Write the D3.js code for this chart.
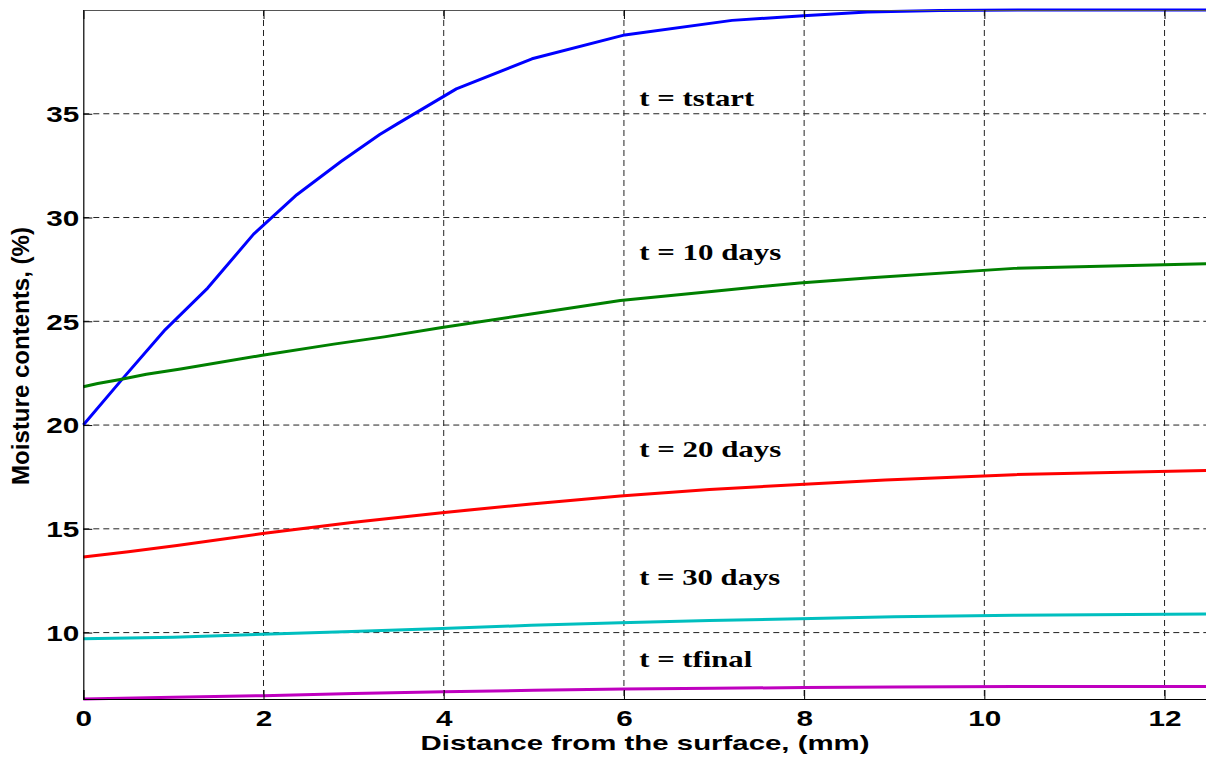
<!DOCTYPE html>
<html>
<head>
<meta charset="utf-8">
<script src="https://cdn.jsdelivr.net/npm/d3@7"></script>
<style>
  html, body { margin: 0; padding: 0; background: #fff; }
  svg { display: block; }
</style>
</head>
<body>
<svg id="chart" width="1206" height="757"></svg>
<script>
// Moisture profiles through the thickness at successive drying times
const xTicks = [0, 2, 4, 6, 8, 10, 12];
const yTicks = [10, 15, 20, 25, 30, 35];

const distStart  = [0, 0.43, 0.91, 1.38, 1.89, 2.37, 2.86, 3.29, 3.48, 4.14, 4.98, 6.01, 7.20, 7.99, 8.7, 9.5, 10.5, 12.5];
const moistStart = [20.0, 22.2, 24.6, 26.6, 29.2, 31.1, 32.7, 34.0, 34.5, 36.2, 37.65, 38.8, 39.5, 39.72, 39.9, 39.97, 40.0, 40.0];

const dist10  = [0, 0.16, 0.41, 0.7, 1.08, 1.97, 2.78, 3.34, 3.98, 4.97, 5.96, 7.0, 7.95, 8.74, 10.33, 12.5];
const moist10 = [21.85, 22.0, 22.2, 22.45, 22.7, 23.35, 23.9, 24.25, 24.7, 25.35, 26.0, 26.45, 26.85, 27.1, 27.55, 27.78];

const dist20  = [0, 0.5, 1.04, 1.99, 2.98, 3.98, 4.97, 5.96, 6.95, 7.95, 8.9, 10.33, 12.5];
const moist20 = [13.64, 13.9, 14.2, 14.77, 15.3, 15.78, 16.2, 16.58, 16.9, 17.13, 17.35, 17.61, 17.82];

const dist30  = [0, 1, 1.99, 2.98, 3.98, 4.97, 5.96, 6.95, 7.95, 9, 10.33, 12.5];
const moist30 = [9.7, 9.78, 9.92, 10.05, 10.2, 10.35, 10.47, 10.58, 10.67, 10.76, 10.83, 10.9];

const distFinal  = [0, 1, 2, 3, 4, 5, 6, 7, 8, 9, 10.33, 12.5];
const moistFinal = [6.8, 6.88, 6.96, 7.07, 7.15, 7.22, 7.28, 7.32, 7.35, 7.38, 7.4, 7.4];

const seriesNames  = ["t = tstart", "t = 10 days", "t = 20 days", "t = 30 days", "t = tfinal"];
const seriesColors = ["#0000ff", "#008000", "#ff0000", "#00bfbf", "#bf00bf"];
const labelX = [6.17, 6.17, 6.17, 6.17, 6.17];
const labelY = [35.37, 27.95, 18.46, 12.29, 8.34];
const labelWidths = [115, 142, 142, 141, 113];

const series = [
  { x: distStart, y: moistStart },
  { x: dist10,    y: moist10 },
  { x: dist20,    y: moist20 },
  { x: dist30,    y: moist30 },
  { x: distFinal, y: moistFinal }
];

const plotLeft = 83.3, plotTop = 10, plotBottom = 699, plotRight = 1209.6;
const x = d3.scaleLinear().domain([0, 12.5]).range([plotLeft, plotRight]);
const y = d3.scaleLinear().domain([6.8, 40]).range([plotBottom, plotTop]);

const svg = d3.select("#chart");

// dashed grid
const grid = svg.append("g").attr("stroke", "#222").attr("stroke-width", 1)
  .attr("stroke-dasharray", "6,4").attr("fill", "none");
xTicks.filter(d => d > 0).forEach(d => {
  grid.append("line").attr("x1", x(d)).attr("x2", x(d)).attr("y1", plotTop).attr("y2", plotBottom);
});
yTicks.forEach(d => {
  grid.append("line").attr("x1", plotLeft).attr("x2", plotRight).attr("y1", y(d)).attr("y2", y(d));
});

// curves
const line = d3.line().x(d => x(d[0])).y(d => y(d[1]));
series.forEach((s, i) => {
  svg.append("path")
    .datum(s.x.map((v, j) => [v, s.y[j]]))
    .attr("d", line)
    .attr("fill", "none")
    .attr("stroke", seriesColors[i])
    .attr("stroke-width", 3)
    .attr("stroke-linejoin", "round");
});

// axes with inward ticks
const fmt = d3.format("d");
const xAxis = svg.append("g").attr("transform", `translate(0,${plotBottom})`)
  .call(d3.axisBottom(x).tickValues(xTicks).tickFormat(fmt).tickSize(-9).tickPadding(11));
const yAxis = svg.append("g").attr("transform", `translate(${plotLeft},0)`)
  .call(d3.axisLeft(y).tickValues(yTicks).tickFormat(fmt).tickSize(-9).tickPadding(5));
const xTop = svg.append("g").attr("transform", `translate(0,${plotTop})`)
  .call(d3.axisTop(x).tickValues(xTicks).tickFormat("").tickSize(-9));

[xAxis, yAxis, xTop].forEach(g => {
  g.select(".domain").attr("stroke", "#000").attr("stroke-width", 1.2);
  g.selectAll(".tick line").attr("stroke", "#000").attr("stroke-width", 1);
});
xTop.select(".domain").attr("stroke", "#555");

xAxis.selectAll(".tick text")
  .attr("font-family", "'Liberation Sans', Arial, sans-serif")
  .attr("font-weight", "bold").attr("font-size", 22).attr("fill", "#000")
  .attr("x", 0)
  .attr("dy", "0.71em")
  .attr("transform", "scale(1.35,1)");

yAxis.selectAll(".tick text")
  .attr("font-family", "'Liberation Sans', Arial, sans-serif")
  .attr("font-weight", "bold").attr("font-size", 22).attr("fill", "#000")
  .attr("x", -4 / 1.35)
  .attr("dy", "0.36em")
  .attr("transform", "scale(1.35,1)");

// curve labels
seriesNames.forEach((name, i) => {
  svg.append("text")
    .attr("x", x(labelX[i])).attr("y", y(labelY[i]))
    .attr("font-family", "'Liberation Serif', 'Times New Roman', serif")
    .attr("font-weight", "bold").attr("font-size", 23)
    .attr("textLength", labelWidths[i]).attr("lengthAdjust", "spacingAndGlyphs")
    .text(name);
});

// axis titles
svg.append("text")
  .attr("x", 645).attr("y", 750)
  .attr("text-anchor", "middle")
  .attr("font-family", "'Liberation Sans', Arial, sans-serif")
  .attr("font-weight", "bold").attr("font-size", 21)
  .attr("textLength", 449).attr("lengthAdjust", "spacingAndGlyphs")
  .text("Distance from the surface, (mm)");

svg.append("text")
  .attr("transform", "translate(29,356) rotate(-90)")
  .attr("text-anchor", "middle")
  .attr("font-family", "'Liberation Sans', Arial, sans-serif")
  .attr("font-weight", "bold").attr("font-size", 23)
  .attr("textLength", 258).attr("lengthAdjust", "spacingAndGlyphs")
  .text("Moisture contents, (%)");
</script>
</body>
</html>
